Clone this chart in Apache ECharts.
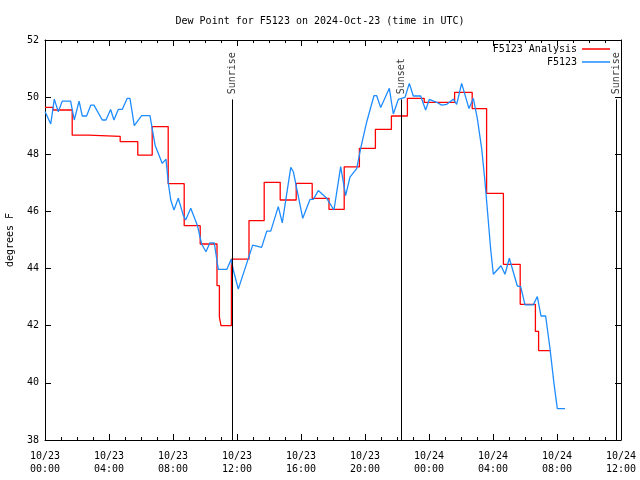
<!DOCTYPE html>
<html><head><meta charset="utf-8">
<script src="https://cdn.jsdelivr.net/npm/echarts@6/dist/echarts.min.js"></script>
<style>html,body{margin:0;padding:0;background:#fff}#c{width:640px;height:480px}</style>
</head><body><div id="c"></div>
<script>
const FONT = 'DejaVu Sans Mono';
const titleText = 'Dew Point for F5123 on 2024-Oct-23 (time in UTC)';
const xTickLabels = ['10/23\n00:00','10/23\n04:00','10/23\n08:00','10/23\n12:00','10/23\n16:00','10/23\n20:00','10/24\n00:00','10/24\n04:00','10/24\n08:00','10/24\n12:00'];
// hours since 10/23 00:00 UTC
const redTimes = [0, 0.5, 1.7, 2.7, 4.7, 5.8, 6.7, 7.7, 8.7, 9.7, 10.75, 10.9, 11.0, 11.65, 12.75, 13.7, 14.7, 15.7, 16.7, 17.75, 18.7, 19.65, 20.65, 21.65, 22.65, 23.7, 25.6, 26.7, 27.6, 28.65, 29.7, 30.65, 30.85, 31.56];
const redValues = [49.64, 49.55, 48.67, 48.63, 48.44, 47.97, 48.97, 46.97, 45.5, 44.86, 43.4, 42.3, 42.0, 44.33, 45.68, 47.02, 46.4, 46.98, 46.46, 46.07, 47.56, 48.21, 48.87, 49.34, 49.96, 49.82, 50.17, 49.6, 46.63, 44.15, 42.75, 41.8, 41.13, 41.13];
const blueTimes = [0.0, 0.36, 0.58, 0.83, 1.08, 1.6, 1.83, 2.13, 2.33, 2.6, 2.86, 3.06, 3.58, 3.81, 4.1, 4.31, 4.58, 4.83, 5.14, 5.31, 5.58, 6.04, 6.56, 6.88, 7.33, 7.56, 7.71, 7.86, 8.06, 8.33, 8.64, 8.79, 9.11, 9.52, 9.79, 10.06, 10.31, 10.58, 10.83, 11.36, 11.63, 11.77, 12.08, 12.98, 13.54, 13.86, 14.11, 14.58, 14.83, 15.36, 15.52, 16.11, 16.56, 16.77, 17.08, 17.61, 18.06, 18.48, 18.79, 19.06, 19.48, 19.73, 20.11, 20.56, 20.73, 20.98, 21.52, 21.77, 22.08, 22.5, 22.77, 23.02, 23.48, 23.79, 24.02, 24.48, 24.79, 25.11, 25.52, 25.73, 26.04, 26.5, 26.77, 27.02, 27.29, 27.5, 27.71, 27.86, 28.02, 28.5, 28.75, 29.02, 29.52, 29.73, 30.0, 30.52, 30.77, 31.0, 31.29, 31.56, 31.81, 32.02, 32.5];
const blueValues = [49.5, 49.06, 49.93, 49.49, 49.86, 49.86, 49.2, 49.86, 49.34, 49.34, 49.72, 49.72, 49.2, 49.2, 49.57, 49.2, 49.57, 49.57, 49.96, 49.96, 49.0, 49.35, 49.35, 48.32, 47.68, 47.83, 46.98, 46.4, 46.05, 46.46, 45.87, 45.7, 46.11, 45.52, 44.86, 44.59, 44.9, 44.9, 43.97, 43.97, 44.32, 43.95, 43.28, 44.82, 44.74, 45.31, 45.31, 46.17, 45.6, 47.54, 47.39, 45.76, 46.42, 46.42, 46.73, 46.46, 46.05, 47.57, 46.55, 47.2, 47.5, 48.21, 49.14, 50.05, 50.05, 49.64, 50.31, 49.41, 49.92, 49.99, 50.48, 50.04, 50.04, 49.55, 49.92, 49.82, 49.72, 49.75, 49.93, 49.75, 50.48, 49.6, 49.96, 49.26, 48.21, 47.04, 45.64, 44.65, 43.8, 44.1, 43.8, 44.36, 43.39, 43.37, 42.73, 42.73, 43.02, 42.34, 42.34, 41.21, 39.98, 39.1, 39.1];
const sunTimes = [11.69, 22.25, 35.69];
const sunLabels = ['Sunrise', 'Sunset', 'Sunrise'];

const zip = (a, b) => a.map((t, i) => [t, b[i]]);
const txt = { fontFamily: FONT, fontSize: 10, color: '#000' };
const chart = echarts.init(document.getElementById('c'), null, { renderer: 'canvas' });

const tickCommon = { show: true, inside: true, length: 6, lineStyle: { color: '#000', width: 1 } };
chart.setOption({
  animation: false,
  backgroundColor: '#fff',
  title: { text: titleText, left: 'center', top: 11, textStyle: Object.assign({ fontWeight: 'normal' }, txt) },
  legend: {
    orient: 'vertical', right: 30, top: 44, align: 'right', itemWidth: 28, itemHeight: 1.5, itemGap: 3,
    icon: 'rect',
    data: ['F5123 Analysis', 'F5123'], textStyle: txt, padding: 0
  },
  grid: { left: 45, right: 19, top: 40, bottom: 40, containLabel: false, outerBoundsMode: 'none' },
  xAxis: [{
    type: 'value', min: 0, max: 36, interval: 4, position: 'bottom',
    axisLine: { show: true, onZero: false, lineStyle: { color: '#000', width: 1 } },
    axisTick: tickCommon,
    minorTick: { show: true, splitNumber: 4, length: 3, lineStyle: { color: '#000', width: 1 } },
    splitLine: { show: false },
    axisLabel: Object.assign({ margin: 10, lineHeight: 13, formatter: v => xTickLabels[Math.round(v / 4)] }, txt)
  }, {
    type: 'value', min: 0, max: 36, interval: 4, position: 'top',
    axisLine: { show: true, onZero: false, lineStyle: { color: '#000', width: 1 } },
    axisTick: tickCommon,
    minorTick: { show: true, splitNumber: 4, length: 3, lineStyle: { color: '#000', width: 1 } },
    splitLine: { show: false }, axisLabel: { show: false }
  }],
  yAxis: [{
    type: 'value', min: 38, max: 52, interval: 2, position: 'left',
    name: 'degrees F', nameLocation: 'middle', nameRotate: 90, nameGap: 30, nameTextStyle: txt,
    axisLine: { show: true, onZero: false, lineStyle: { color: '#000', width: 1 } },
    axisTick: tickCommon, splitLine: { show: false },
    axisLabel: Object.assign({ margin: 6 }, txt)
  }, {
    type: 'value', min: 38, max: 52, interval: 2, position: 'right',
    axisLine: { show: true, onZero: false, lineStyle: { color: '#000', width: 1 } },
    axisTick: tickCommon, splitLine: { show: false }, axisLabel: { show: false }
  }],
  series: [{
    name: 'F5123 Analysis', type: 'line', step: 'end', xAxisIndex: 0, yAxisIndex: 0,
    data: zip(redTimes, redValues), symbol: 'none', color: '#ff0000',
    lineStyle: { color: '#ff0000', width: 1.3 }, z: 3
  }, {
    name: 'F5123', type: 'line', xAxisIndex: 0, yAxisIndex: 0,
    data: zip(blueTimes, blueValues), symbol: 'none', color: '#1e8cff',
    lineStyle: { color: '#1e8cff', width: 1.3 }, z: 4
  }, {
    name: 'sun', type: 'scatter', xAxisIndex: 0, yAxisIndex: 0,
    data: sunTimes.map((t, i) => ({ value: [t, 50.1], name: sunLabels[i] })),
    symbolSize: 0, itemStyle: { color: 'rgba(0,0,0,0)' }, silent: true,
    label: Object.assign({ show: true, position: 'inside', align: 'left', verticalAlign: 'middle', rotate: 90, formatter: p => p.name }, txt),
    markLine: {
      silent: true, symbol: 'none', animation: false,
      lineStyle: { color: '#000', width: 1, type: 'solid' },
      label: { show: false },
      data: sunTimes.map(t => [{ coord: [t, 38] }, { coord: [t, 49.92] }])
    }, z: 2
  }]
});
</script></body></html>
